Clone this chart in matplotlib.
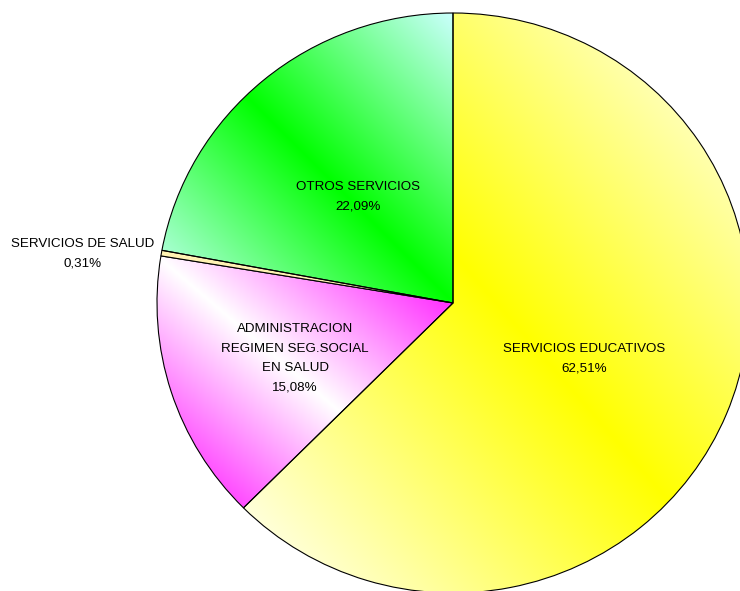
import numpy as np
import matplotlib
matplotlib.use("Agg")
import matplotlib.pyplot as plt
from matplotlib.colors import to_rgb

plt.rcParams["font.family"] = ["Liberation Sans", "DejaVu Sans"]

labels = ["SERVICIOS EDUCATIVOS",
          "ADMINISTRACION\nREGIMEN SEG.SOCIAL\nEN SALUD",
          "SERVICIOS DE SALUD",
          "OTROS SERVICIOS"]
shares = [62.51, 15.08, 0.31, 22.09]

# (colour at the bbox corners, colour along the middle diagonal); None = flat fill
gradients = [("#FFFFFF", "#FFFF00"),
             ("#FF00FF", "#FFFFFF"),
             None,
             ("#CCFFFF", "#00FF00")]
flat_colors = ["#FFFF00", "#FF00FF", "#FFF2B3", "#00FF00"]
label_r = [0.48, 0.56, 1.27, 0.50]
label_dy = [-0.007, -0.02, -0.05, -0.018]

fig = plt.figure(figsize=(7.4, 5.91), dpi=100)
ax = fig.add_axes([0, 0, 1, 1])

wedges, _ = ax.pie(shares, startangle=90, counterclock=False, colors=flat_colors,
                   wedgeprops=dict(edgecolor="black", linewidth=0.8))
ax.set_aspect("auto")
ax.set_xlim(-453 / 296, 287 / 296)
ax.set_ylim(-288 / 290, 303 / 290)
ax.axis("off")

n = 300
gx, gy = np.meshgrid(np.linspace(0, 1, n), np.linspace(0, 1, n))
s = ((1 - gx) + gy) / 2          # 0 at top-right, 1 at bottom-left
f = 1 - np.abs(2 * s - 1)        # 1 on the top-left/bottom-right diagonal

for w, grad in zip(wedges, gradients):
    if grad is None:
        continue
    t = np.radians(np.linspace(w.theta1, w.theta2, 200))
    xs = np.append(np.cos(t) * w.r, 0)
    ys = np.append(np.sin(t) * w.r, 0)
    c_edge, c_mid = np.array(to_rgb(grad[0])), np.array(to_rgb(grad[1]))
    img = c_edge + (c_mid - c_edge) * f[..., None]
    im = ax.imshow(img, extent=(xs.min(), xs.max(), ys.min(), ys.max()),
                   origin="upper", aspect="auto", interpolation="bilinear", zorder=0.5)
    im.set_clip_path(w)
    w.set_facecolor("none")
    w.set_zorder(1)

for w, lab, v, r, dy in zip(wedges, labels, shares, label_r, label_dy):
    mid = np.radians((w.theta1 + w.theta2) / 2)
    txt = lab + "\n" + f"{v:.2f}".replace(".", ",") + "%"
    ax.text(r * np.cos(mid), r * np.sin(mid) + dy, txt, ha="center", va="center",
            fontsize=9.6, linespacing=1.85, zorder=3)

fig.savefig("out.png", dpi=100)
